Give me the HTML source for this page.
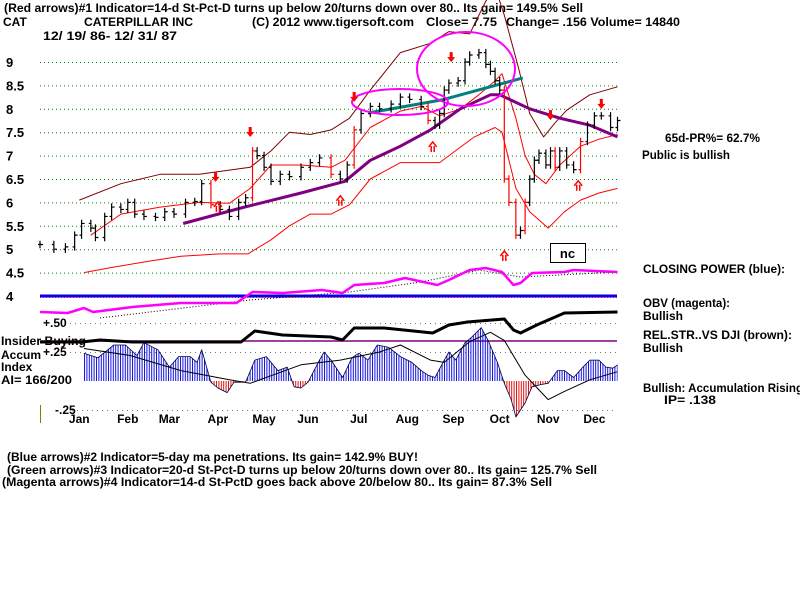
<!DOCTYPE html>
<html><head><meta charset="utf-8"><style>
body{margin:0;background:#fff;}
svg{display:block;font-family:"Liberation Sans",sans-serif;font-weight:bold;}
</style></head><body>
<svg id="c" width="800" height="600" viewBox="0 0 800 600">
<defs>
<pattern id="bluestripe" width="2.4" height="10" patternUnits="userSpaceOnUse"><rect x="0" y="0" width="1" height="10" fill="#1010e0"/></pattern>
<pattern id="redstripe" width="2.4" height="10" patternUnits="userSpaceOnUse"><rect x="0" y="0" width="1" height="10" fill="#e01010"/></pattern>
<clipPath id="pos"><rect x="0" y="0" width="800" height="381"/></clipPath>
<clipPath id="neg"><rect x="0" y="381" width="800" height="219"/></clipPath>
</defs>
<g font-size="12">
<text x="4" y="12" textLength="579" lengthAdjust="spacingAndGlyphs">(Red arrows)#1 Indicator=14-d St-Pct-D turns up below 20/turns down over 80.. Its gain= 149.5% Sell</text>
<text x="3" y="26">CAT</text>
<text x="84" y="26" textLength="109" lengthAdjust="spacingAndGlyphs">CATERPILLAR INC</text>
<text x="252" y="26" textLength="162" lengthAdjust="spacingAndGlyphs">(C) 2012 www.tigersoft.com</text>
<text x="426" y="26" textLength="71" lengthAdjust="spacingAndGlyphs">Close=  7.75</text>
<text x="506" y="26" textLength="174" lengthAdjust="spacingAndGlyphs">Change= .156 Volume= 14840</text>
<text x="43" y="40" textLength="134" lengthAdjust="spacingAndGlyphs">12/ 19/ 86- 12/ 31/ 87</text>
<text x="665" y="142" textLength="95" lengthAdjust="spacingAndGlyphs">65d-PR%= 62.7%</text>
<text x="642" y="159" textLength="88" lengthAdjust="spacingAndGlyphs">Public is bullish</text>
<text x="643" y="273" textLength="142" lengthAdjust="spacingAndGlyphs">CLOSING POWER (blue):</text>
<text x="643" y="307" textLength="87" lengthAdjust="spacingAndGlyphs">OBV (magenta):</text>
<text x="643" y="320">Bullish</text>
<text x="643" y="339" textLength="149" lengthAdjust="spacingAndGlyphs">REL.STR..VS DJI (brown):</text>
<text x="643" y="352">Bullish</text>
<text x="643" y="392" textLength="160" lengthAdjust="spacingAndGlyphs">Bullish: Accumulation Rising</text>
<text x="664" y="404" textLength="52" lengthAdjust="spacingAndGlyphs">IP=  .138</text>
<text x="43" y="327">+.50</text>
<text x="43" y="356">+.25</text>
<text x="55" y="414">-.25</text>
<text x="1" y="345" textLength="85" lengthAdjust="spacingAndGlyphs">Insider Buying</text>
<text x="1" y="359">Accum</text>
<text x="1" y="371">Index</text>
<text x="1" y="384" textLength="71" lengthAdjust="spacingAndGlyphs">AI= 166/200</text>
<text x="7" y="461" textLength="411" lengthAdjust="spacingAndGlyphs">(Blue arrows)#2 Indicator=5-day ma penetrations. Its gain= 142.9% BUY!</text>
<text x="7" y="474" textLength="590" lengthAdjust="spacingAndGlyphs">(Green arrows)#3 Indicator=20-d St-Pct-D turns up below 20/turns down over 80.. Its gain= 125.7% Sell</text>
<text x="2" y="486" textLength="550" lengthAdjust="spacingAndGlyphs">(Magenta arrows)#4 Indicator=14-d St-PctD goes back above 20/below 80.. Its gain= 87.3% Sell</text>
</g>
<line x1="40.5" y1="405" x2="40.5" y2="423" stroke="#808000"/>
<g id="plot"></g>
</svg>
<script>
// ---- data ----
const priceTicks = [9, 8.5, 8, 7.5, 7, 6.5, 6, 5.5, 5, 4.5, 4];
const months = ["Jan","Feb","Mar","Apr","May","Jun","Jul","Aug","Sep","Oct","Nov","Dec"];
const monthDays = [17,38,56,77,97,116,138,159,179,199,220,240];
const priceDays = [0,6,11,15,18,22,24,28,31,35,38,41,45,50,54,58,63,67,70,74,78,82,86,89,92,94,97,100,104,108,113,117,121,126,130,133,136,139,143,147,152,156,160,165,168,171,173,175,177,181,184,186,190,193,195,197,199,201,203,206,208,210,212,214,216,219,221,223,225,228,231,234,237,240,243,247,250];
const priceClose = [5.1,5.0,5.05,5.3,5.55,5.45,5.25,5.7,5.9,5.85,6.0,5.75,5.7,5.68,5.8,5.75,6.0,6.02,6.4,5.95,5.85,5.7,6.0,6.1,7.1,7.0,6.75,6.45,6.6,6.55,6.75,6.85,6.95,6.6,6.5,6.8,7.55,7.9,8.05,8.0,8.1,8.25,8.2,8.05,7.75,7.65,7.9,8.4,8.55,8.6,9.0,9.15,9.2,8.95,8.8,8.6,8.4,6.5,6.0,5.3,5.4,6.0,6.5,6.9,7.05,6.8,7.1,6.75,7.1,6.8,6.7,7.3,7.65,7.85,7.85,7.6,7.75];
const upperDays = [17,35,52,69,91,100,108,117,126,134,143,156,169,177,186,193,197,201,207,212,218,223,228,238,250];
const upperBand = [6.05,6.4,6.6,6.6,6.75,7.1,7.5,7.45,7.55,7.8,8.4,9.2,9.4,9.65,9.6,10.3,10.6,10.0,8.9,7.9,7.4,7.7,7.97,8.3,8.47];
const lowerDays = [19,30,48,61,78,90,100,108,117,126,134,143,156,173,188,197,200,206,212,220,227,234,242,250];
const lowerBand = [4.5,4.6,4.75,4.85,4.9,4.9,5.2,5.5,5.75,5.75,5.95,6.5,6.85,6.85,7.4,7.6,7.5,6.3,5.8,5.45,5.8,6.05,6.2,6.3];
const midDays = [22,35,52,69,82,91,100,113,126,132,143,156,165,173,182,190,197,200,206,210,214,219,225,234,242,250];
const midMA = [5.3,5.75,5.9,6.0,5.98,6.3,6.8,6.8,6.75,6.9,7.6,7.95,8.05,7.85,8.0,8.3,8.6,8.75,7.8,7.0,6.6,6.4,6.8,7.2,7.35,7.45];
const ma65Days = [62,87,113,132,143,156,169,182,195,199,212,225,238,250];
const ma65 = [5.55,5.88,6.2,6.45,6.9,7.2,7.55,8.0,8.3,8.3,8.0,7.8,7.65,7.4];
const trendDays = [142,174,209];
const trendVals = [7.91,8.19,8.66];
const downArrowDays = [76,91,136,178,221,243];
const downArrowVals = [6.48,7.44,8.19,9.04,7.8,8.04];
const upArrowDays = [77,130,170,201,233];
const upArrowVals = [5.99,6.12,7.27,4.94,6.44];
const obvDays = [0,12,19,23,40,61,85,92,105,122,131,136,149,158,172,177,186,193,200,205,208,213,227,231,250];
const obvVals = [8,7,12,8,13,17,17,28,27,30,27,35,37,42,35,40,50,52,48,35,37,47,48,50,48];
const obvTrendDays = [26,91,134,165,190,208,250];
const obvTrendVals = [2,20,28,38,50,43,48];
const rsDays = [0,18,26,40,87,93,105,126,131,136,149,170,177,185,201,205,208,215,227,250];
const rsVals = [3,3,5,3,3,14,10,8,5,17,17,12,20,23,26,15,12,20,32,33];
const aiDays = [19,25,32,37,42,45,51,56,60,65,68,70,74,77,81,84,89,93,98,103,107,110,113,116,121,123,126,129,131,135,138,142,146,151,156,161,165,168,171,175,177,180,184,187,191,194,198,201,204,206,210,213,217,220,224,227,231,235,238,242,245,248,250];
const aiVals = [.24,.20,.31,.31,.22,.33,.27,.12,.21,.21,.16,.27,-.01,-.06,-.10,-.01,-.01,.18,.21,.09,.12,-.05,-.06,-.01,.18,.25,.18,.09,.03,.20,.24,.18,.31,.29,.21,.16,.09,.05,.03,.18,.25,.18,.33,.38,.46,.35,.16,-.02,-.16,-.31,-.19,-.05,-.03,-.02,.09,.09,.03,.12,.18,.18,.12,.11,.14];
const aiMADays = [19,39,61,82,91,113,130,147,156,169,175,186,195,201,210,220,227,238,250];
const aiMA = [.28,.22,.09,.01,-.02,.14,.18,.25,.31,.18,.16,.34,.42,.35,.05,-.16,-.09,.01,.08];

// ---- scales ----
const X = d => 40 + d * 2.31;
const YP = v => 62 + (9 - v) * 46.8;
const YO = v => 320 - v;
const YR = v => 345 - v;
const YA = v => 381 - v * 116;
const NS = "http://www.w3.org/2000/svg";
const g = document.getElementById('plot');
function mk(tag, attrs, parent) {
  const e = document.createElementNS(NS, tag);
  for (const k in attrs) e.setAttribute(k, attrs[k]);
  (parent || g).appendChild(e);
  return e;
}
function pts(days, vals, fy) { return days.map((d, i) => X(d).toFixed(1) + ',' + fy(vals[i]).toFixed(1)).join(' '); }

priceTicks.forEach(t => {
  if (t > 4) {
    const l = mk('line', {x1: 40, x2: 617, y1: YP(t) + .5, y2: YP(t) + .5, stroke: '#008000', 'stroke-dasharray': '1 3'});
    
    
  }
  const tx = mk('text', {x: 6, y: YP(t) + 5, 'font-size': 13});
  tx.textContent = String(t);
  
  
});
[[.5, 323], [.25, 352], [-.25, 410]].forEach(p => {
  const l = mk('line', {x1: p[0] < 0 ? 72 : 70, x2: 617, y1: YA(p[0]) + .5, y2: YA(p[0]) + .5, stroke: '#777', 'stroke-dasharray': '1 4'});
  
  
});
months.forEach((m, i) => {
  const t = mk('text', {x: X(monthDays[i]), y: 423, 'font-size': 12, 'text-anchor': 'middle'});
  t.textContent = m;
  
  
});

function line(days, vals, fy, color, w, name, dash) {
  const a = {points: pts(days, vals, fy), fill: 'none', stroke: color, 'stroke-width': w, 'stroke-linejoin': 'round'};
  if (dash) a['stroke-dasharray'] = dash;
  const p = mk('polyline', a);
  
  
  return p;
}
line(upperDays, upperBand, YP, '#800000', 1, 'upper-band');
line(lowerDays, lowerBand, YP, '#ff0000', 1, 'lower-band');
line(midDays, midMA, YP, '#ff0000', 1, 'moving-average-20');
line(ma65Days, ma65, YP, '#800080', 3, 'moving-average-65');
line(trendDays, trendVals, YP, '#008080', 3, 'trend-line');

priceDays.forEach((d, i) => {
  const v = priceClose[i];
  const prev = i > 0 ? priceClose[i - 1] : v;
  const col = (prev - v > 0.3 || v - prev > 0.5) ? '#ff0000' : '#000';
  const hi = Math.max(v, prev) + 0.08, lo = Math.min(v, prev) - 0.08;
  const b = mk('path', {d: `M${X(d)},${YP(hi)}V${YP(lo)}M${X(d)-2},${YP(prev)}h2M${X(d)},${YP(v)}h3`, stroke: col, 'stroke-width': 1.2, fill: 'none'});
  
  
});

const e1 = mk('ellipse', {cx: 400, cy: 102, rx: 48, ry: 13, fill: 'none', stroke: '#ff00ff', 'stroke-width': 2});


const e2 = mk('ellipse', {cx: 466, cy: 69, rx: 49, ry: 37, fill: 'none', stroke: '#ff00ff', 'stroke-width': 2});



downArrowDays.forEach((d, i) => {
  const x = X(d), y = YP(downArrowVals[i]);
  const a = mk('path', {d: `M${x-1.5},${y-8}h3v5h2.5l-4,5l-4,-5h2.5z`, fill: '#ff0000'});
  
  
});
upArrowDays.forEach((d, i) => {
  const x = X(d), y = YP(upArrowVals[i]);
  const a = mk('path', {d: `M${x-1.5},${y+9}V${y+3}M${x+1.5},${y+9}V${y+3}M${x-4},${y+4}L${x},${y-1}L${x+4},${y+4}`, stroke: '#ff0000', 'stroke-width': 1.5, fill: 'none'});
  
  
});

const nb = mk('rect', {x: 550.5, y: 243.5, width: 35, height: 19, fill: '#fff', stroke: '#000'});


const nt = mk('text', {x: 567.5, y: 258, 'font-size': 13, 'text-anchor': 'middle'});
nt.textContent = 'nc';



const cpl = mk('line', {x1: 40, x2: 617, y1: 296, y2: 296, stroke: '#0000ff', 'stroke-width': 3});


const cpd = mk('line', {x1: 40, x2: 617, y1: 297.5, y2: 297.5, stroke: '#ff0000', 'stroke-dasharray': '1 2'});



line(obvTrendDays, obvTrendVals, YO, '#000', 1, 'obv-trend', '1 2');
line(obvDays, obvVals, YO, '#ff00ff', 2.5, 'obv-line');

const il = mk('line', {x1: 40, x2: 617, y1: 341, y2: 341, stroke: '#800080', 'stroke-width': 1.5});


line(rsDays, rsVals, YR, '#000', 3, 'relative-strength-line');

const poly = X(aiDays[0]) + ',381 ' + pts(aiDays, aiVals, YA) + ' ' + X(aiDays[aiDays.length - 1]) + ',381';
const ap = mk('polygon', {points: poly, fill: 'url(#bluestripe)', 'clip-path': 'url(#pos)'});


const an = mk('polygon', {points: poly, fill: 'url(#redstripe)', 'clip-path': 'url(#neg)'});


line(aiDays, aiVals, YA, '#000040', 0.8, 'accumulation-outline');
line(aiMADays, aiMA, YA, '#000', 1, 'accumulation-ma');
</script>
</body></html>
